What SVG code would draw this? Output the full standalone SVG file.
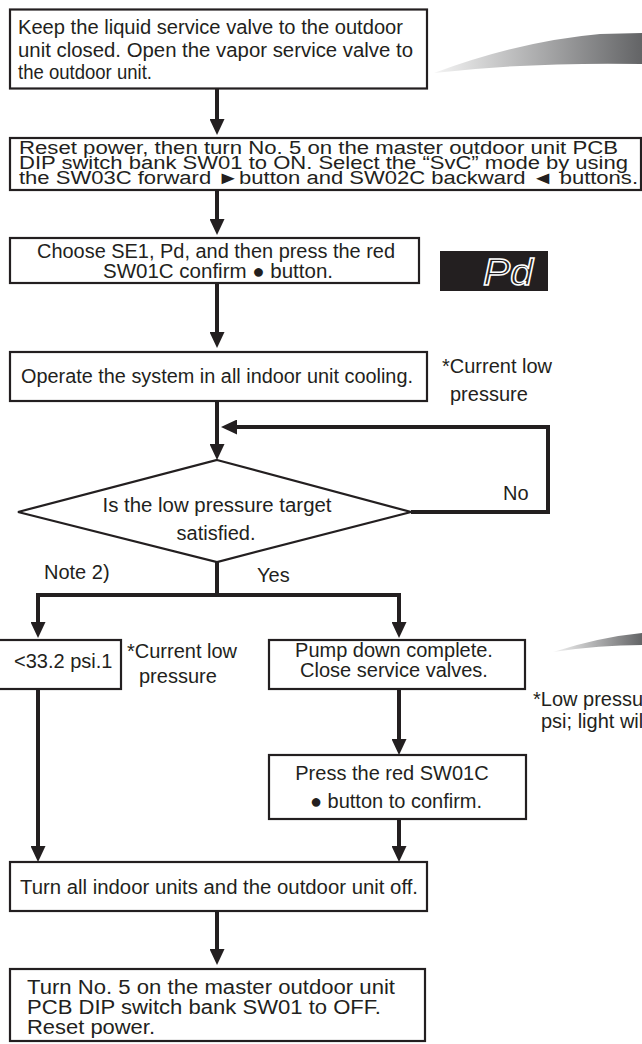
<svg xmlns="http://www.w3.org/2000/svg" width="642" height="1044" viewBox="0 0 642 1044">
<defs>
<linearGradient id="swoosh" x1="0" y1="0" x2="1" y2="0">
<stop offset="0" stop-color="#f4f4f4"/>
<stop offset="1" stop-color="#636466"/>
</linearGradient>
<marker id="ah" viewBox="0 0 16 15" refX="10" refY="7.5" markerWidth="16" markerHeight="15" markerUnits="userSpaceOnUse" orient="auto">
<path d="M0,0 L16,7.5 L0,15 Z" fill="#231f20"/>
</marker>
</defs>
<style>
.box{fill:#fff;stroke:#231f20;stroke-width:2.2}
.t{font-family:"Liberation Sans",Arial,Helvetica,sans-serif;font-size:20px;fill:#231f20}
.s{font-size:18px}
.c{text-anchor:middle}
.ln{fill:none;stroke:#231f20;stroke-width:4;marker-end:url(#ah)}
.pl{fill:none;stroke:#231f20;stroke-width:4}
</style>
<rect width="642" height="1044" fill="#fff"/>

<path d="M434,73 Q520,41 600,34 L642,33 L642,64 Q530,62 434,73 Z" fill="url(#swoosh)"/>
<path d="M553,652 Q600,637 642,633 L642,645 Q600,645 553,652 Z" fill="url(#swoosh)"/>

<g id="connectors">
<path class="ln" d="M217,89 V129"/>
<path class="ln" d="M217,190 V229"/>
<path class="ln" d="M217,283 V342"/>
<path class="ln" d="M217,401 V454"/>
<path class="ln" d="M411,512 H548 V427 H227"/>
<path class="pl" d="M217,562 V595"/>
<path class="pl" d="M36,595 H401"/>
<path class="ln" d="M38,593 V632"/>
<path class="ln" d="M399,593 V632"/>
<path class="ln" d="M38,689 V856"/>
<path class="ln" d="M399,689 V749"/>
<path class="ln" d="M399,819 V856"/>
<path class="ln" d="M217,911 V959"/>
</g>

<g id="n1">
<rect class="box" x="10" y="9.5" width="417" height="79"/>
<text class="t" x="18" y="34" textLength="385" lengthAdjust="spacingAndGlyphs">Keep the liquid service valve to the outdoor</text>
<text class="t" x="18" y="57" textLength="395" lengthAdjust="spacingAndGlyphs">unit closed. Open the vapor service valve to</text>
<text class="t" x="18" y="79" textLength="134" lengthAdjust="spacingAndGlyphs">the outdoor unit.</text>
</g>

<g id="n2">
<rect class="box" x="10" y="138" width="631" height="52"/>
<text class="t s" x="19" y="154" textLength="599" lengthAdjust="spacingAndGlyphs">Reset power, then turn No. 5 on the master outdoor unit PCB</text>
<text class="t s" x="19" y="169" textLength="609" lengthAdjust="spacingAndGlyphs">DIP switch bank SW01 to ON. Select the “SvC” mode by using</text>
<text class="t s" x="19" y="184" textLength="619" lengthAdjust="spacingAndGlyphs">the SW03C forward ►button and SW02C backward ◄ buttons.</text>
</g>

<g id="n3">
<rect class="box" x="10" y="238" width="409" height="45"/>
<text class="t c" x="216" y="258" font-size="18.5" textLength="358" lengthAdjust="spacingAndGlyphs">Choose SE1, Pd, and then press the red</text>
<text class="t c" x="218" y="278" font-size="18.5" textLength="230" lengthAdjust="spacingAndGlyphs">SW01C confirm ● button.</text>
</g>

<g id="pd-display">
<rect x="440" y="251" width="108" height="40" fill="#231f20"/>
<text x="483" y="285" font-family="Liberation Sans,Arial,sans-serif" font-size="36" font-style="italic" fill="#231f20" stroke="#fff" stroke-width="1.4" textLength="50" lengthAdjust="spacingAndGlyphs">Pd</text>
</g>

<g id="n4">
<rect class="box" x="10" y="352" width="417" height="49"/>
<text class="t" x="21" y="383" textLength="392" lengthAdjust="spacingAndGlyphs">Operate the system in all indoor unit cooling.</text>
</g>
<g id="note-current1">
<text class="t" x="442" y="373">*Current low</text>
<text class="t" x="450" y="401">pressure</text>
</g>

<g id="decision">
<polygon points="217,460 411,512 217,562 18,512" fill="#fff" stroke="#231f20" stroke-width="2.2"/>
<text class="t c" x="217" y="512" textLength="229" lengthAdjust="spacingAndGlyphs">Is the low pressure target</text>
<text class="t c" x="216" y="540">satisfied.</text>
</g>
<g id="labels">
<text class="t" x="503" y="500">No</text>
<text class="t" x="44" y="579">Note 2)</text>
<text class="t" x="257" y="582">Yes</text>
</g>

<g id="n-low">
<rect class="box" x="-3" y="640" width="124" height="49"/>
<text class="t" x="14" y="668">&lt;33.2 psi.1</text>
</g>
<g id="note-current2">
<text class="t" x="127" y="658">*Current low</text>
<text class="t" x="139" y="683">pressure</text>
</g>

<g id="n-pump">
<rect class="box" x="269" y="640" width="256" height="49"/>
<text class="t c" x="394" y="657">Pump down complete.</text>
<text class="t c" x="394" y="677">Close service valves.</text>
</g>
<g id="note-low">
<text class="t" x="533" y="706">*Low pressu</text>
<text class="t" x="541" y="728">psi; light wil</text>
</g>

<g id="n-press">
<rect class="box" x="269" y="755" width="257" height="64"/>
<text class="t c" x="392" y="780">Press the red SW01C</text>
<text class="t c" x="396" y="808">● button to confirm.</text>
</g>

<g id="n-off">
<rect class="box" x="10" y="862" width="417" height="49"/>
<text class="t" x="20" y="894" textLength="398" lengthAdjust="spacingAndGlyphs">Turn all indoor units and the outdoor unit off.</text>
</g>

<g id="n-last">
<rect class="box" x="10" y="969" width="415" height="72"/>
<text class="t" x="27" y="994" textLength="368" lengthAdjust="spacingAndGlyphs">Turn No. 5 on the master outdoor unit</text>
<text class="t" x="27" y="1014" textLength="354" lengthAdjust="spacingAndGlyphs">PCB DIP switch bank SW01 to OFF.</text>
<text class="t" x="27" y="1034" textLength="128" lengthAdjust="spacingAndGlyphs">Reset power.</text>
</g>
</svg>
